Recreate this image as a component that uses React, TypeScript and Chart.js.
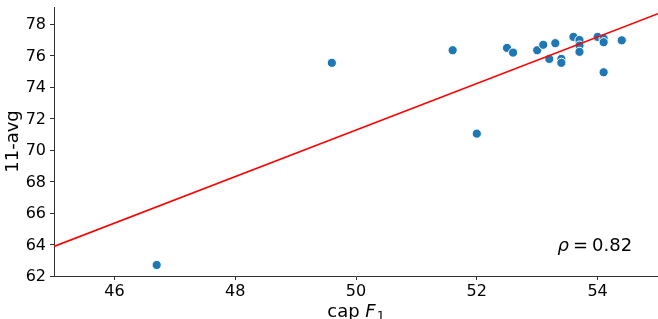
import React, { useEffect, useRef } from 'react';
import { Chart, registerables } from 'chart.js';

Chart.register(...registerables);

// x: cap F1, y: 11-avg
const capF1 = [46.7, 49.6, 51.6, 52.0, 52.5, 52.6, 53.0, 53.1, 53.2, 53.3, 53.4, 53.4, 53.6, 53.7, 53.7, 53.7, 54.0, 54.1, 54.1, 54.1, 54.4];
const avg11 = [62.7, 75.55, 76.35, 71.05, 76.5, 76.2, 76.35, 76.7, 75.8, 76.8, 75.8, 75.55, 77.2, 77.0, 76.65, 76.25, 77.2, 77.1, 76.86, 74.95, 76.98];

// fitted regression line endpoints
const fitX = [45, 55];
const fitY = [63.88, 78.68];

const xTicks = [46, 48, 50, 52, 54];
const yTicks = [62, 64, 66, 68, 70, 72, 74, 76, 78];
const xRange = [45, 55];
const yRange = [62, 79.1];

const yTitle = '11-avg';
const xTitleParts = ['cap ', 'F', '1'];
const rhoParts = ['ρ', '=', '0.82'];

const FONT = '"DejaVu Sans", sans-serif';

const textPlugin = {
  id: 'customText',
  afterDraw(chart: any) {
    const ctx = chart.ctx as CanvasRenderingContext2D;
    const ca = chart.chartArea;
    ctx.save();
    ctx.fillStyle = '#000';
    // y title
    ctx.save();
    ctx.translate(13, (ca.top + ca.bottom) / 2);
    ctx.rotate(-Math.PI / 2);
    ctx.font = `18px ${FONT}`;
    ctx.textAlign = 'center';
    ctx.textBaseline = 'middle';
    ctx.fillText(yTitle, 0, 0);
    ctx.restore();

    // x title: "cap F_1"
    const base = 316.5;
    ctx.textBaseline = 'alphabetic';
    ctx.textAlign = 'left';
    ctx.font = `18px ${FONT}`;
    const w0 = ctx.measureText(xTitleParts[0]).width;
    ctx.font = `italic 18px ${FONT}`;
    const w1 = ctx.measureText(xTitleParts[1]).width;
    ctx.font = `12.6px ${FONT}`;
    const w2 = ctx.measureText(xTitleParts[2]).width;
    const total = w0 + w1 + w2 + 1;
    let x = (ca.left + ca.right) / 2 - total / 2;
    ctx.font = `18px ${FONT}`;
    ctx.fillText(xTitleParts[0], x, base);
    x += w0;
    ctx.font = `italic 18px ${FONT}`;
    ctx.fillText(xTitleParts[1], x, base);
    x += w1 + 1;
    ctx.font = `12.6px ${FONT}`;
    ctx.fillText(xTitleParts[2], x, base + 3.5);

    // rho annotation
    const rb = 250.5;
    let rx = 557.5;
    ctx.font = `italic 18px ${FONT}`;
    ctx.fillText(rhoParts[0], rx, rb);
    rx += ctx.measureText(rhoParts[0]).width + 4;
    ctx.font = `18px ${FONT}`;
    ctx.fillText(rhoParts[1], rx, rb);
    rx += ctx.measureText(rhoParts[1]).width + 4;
    ctx.fillText(rhoParts[2], rx, rb);
    ctx.restore();
  },
};

export default function App() {
  const ref = useRef<HTMLCanvasElement>(null);
  useEffect(() => {
    if (!ref.current) return;
    const chart = new Chart(ref.current, {
      type: 'scatter',
      data: {
        datasets: [
          {
            data: fitX.map((v, i) => ({ x: v, y: fitY[i] })),
            showLine: true,
            borderColor: '#ff0000',
            borderWidth: 1.5,
            pointRadius: 0,
            order: 0,
          } as any,
          {
            data: capF1.map((v, i) => ({ x: v, y: avg11[i] })),
            backgroundColor: '#1f77b4',
            borderColor: '#ffffff',
            borderWidth: 1,
            pointRadius: 4.6,
            order: 1,
          },
        ],
      },
      options: {
        responsive: false,
        animation: false,
        layout: { autoPadding: false, padding: { top: 7, right: 0, left: 0, bottom: 0 } },
        plugins: { legend: { display: false }, tooltip: { enabled: false } },
        scales: {
          x: {
            type: 'linear',
            min: xRange[0],
            max: xRange[1],
            afterBuildTicks: (s: any) => {
              s.ticks = xTicks.map((v) => ({ value: v }));
            },
            afterFit: (s: any) => {
              s.height = 43;
              s.paddingLeft = 0;
              s.paddingRight = 0;
            },
            grid: { display: true, drawOnChartArea: false, tickLength: 4, tickColor: '#333', tickWidth: 1 },
            border: { display: true, color: '#333', width: 1 },
            ticks: { color: '#000', font: { family: FONT, size: 16 }, padding: 2, maxRotation: 0 },
          },
          y: {
            type: 'linear',
            min: yRange[0],
            max: yRange[1],
            afterBuildTicks: (s: any) => {
              s.ticks = yTicks.map((v) => ({ value: v }));
            },
            afterFit: (s: any) => {
              s.width = 54;
              s.paddingTop = 0;
              s.paddingBottom = 0;
            },
            grid: { display: true, drawOnChartArea: false, tickLength: 4, tickColor: '#333', tickWidth: 1 },
            border: { display: true, color: '#333', width: 1 },
            ticks: { color: '#000', font: { family: FONT, size: 16 }, padding: 4, labelOffset: 1 },
          },
        },
      },
      plugins: [textPlugin],
    });
    return () => chart.destroy();
  }, []);
  return (
    <div style={{ position: 'absolute', left: 0, top: 0, width: 658, height: 319, background: '#fff' }}>
      <canvas ref={ref} width={658} height={319} style={{ width: 658, height: 319, display: 'block' }} />
    </div>
  );
}
